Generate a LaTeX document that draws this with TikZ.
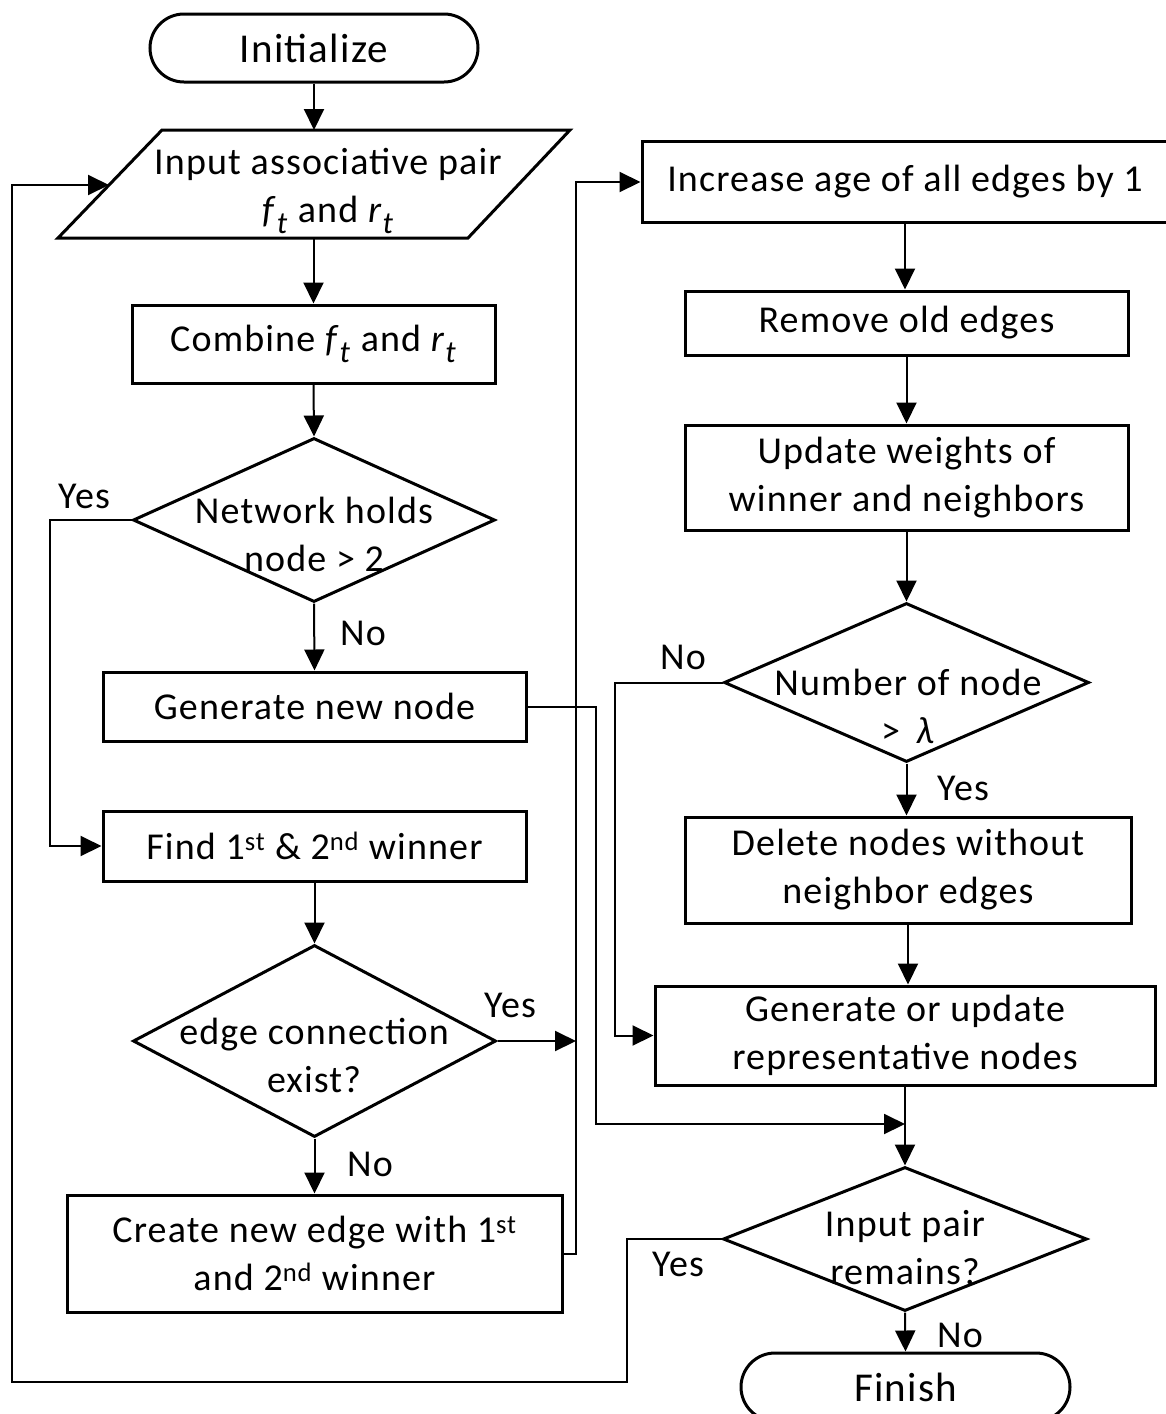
\documentclass[tikz,border=0pt]{standalone}
\usepackage{fontspec}
\setmainfont{Carlito}[LetterSpace=3]
\usetikzlibrary{arrows.meta,shapes.geometric}
\newcommand\vsub[2]{\textit{#1}\raisebox{-0.3em}{\fontsize{31}{31}\selectfont\textit{#2}}}
\begin{document}
\begin{tikzpicture}[x=1pt,y=-1pt,
  every node/.style={font=\fontsize{38}{48}\selectfont},
  box/.style={draw,line width=3pt,inner sep=0pt,align=center},
  term/.style={box,rounded corners=34pt,font=\fontsize{41}{48}\selectfont},
  dia/.style={draw,line width=3pt,diamond,inner sep=0pt},
  txt/.style={align=center,inner sep=0pt},
  conn/.style={line width=2pt},
  arr/.style={conn,-{Triangle[length=21pt,width=20pt]}}]
\useasboundingbox (0,0) rectangle (1166,1414);
\fill[white] (0,0) rectangle (1166,1414);

% left column
\node[term,minimum width=328pt,minimum height=68pt] (init) at (314,48) {Initialize};
\coordinate (pTL) at (162,130); \coordinate (pTR) at (570,130);
\coordinate (pBR) at (468,238); \coordinate (pBL) at (58,238);
\draw[line width=3pt,line join=miter] (pTL) -- (pTR) -- (pBR) -- (pBL) -- cycle;
\node[txt] (inp) at (328,191) {Input associative pair\\\vsub{f}{t} and \vsub{r}{t}};
\coordinate (pin) at (109,185);

\node[box,minimum width=363pt,minimum height=78pt] (comb) at (313.5,344) {Combine \vsub{f}{t} and \vsub{r}{t}};
\node[dia,minimum width=362pt,minimum height=164pt] (d1) at (314,520) {};
\node[txt] (d1t) at (314,534) {Network holds\\node > 2};
\node[box,minimum width=423pt,minimum height=69pt] (gen) at (314.5,706.5) {Generate new node};
\node[box,minimum width=423pt,minimum height=70pt] (find) at (314.5,846) {Find 1\textsuperscript{st} \& 2\textsuperscript{nd} winner};
\node[dia,minimum width=363pt,minimum height=192pt] (d2) at (314.5,1041) {};
\node[txt] (d2t) at (314,1055) {edge connection\\exist?};
\node[box,minimum width=495pt,minimum height=117pt] (create) at (314.5,1253.5) {Create new edge with 1\textsuperscript{st}\\and 2\textsuperscript{nd} winner};

% right column
\node[box,minimum width=526pt,minimum height=81pt] (inc) at (905,182) {Increase age of all edges by 1};
\node[box,minimum width=443pt,minimum height=64pt] (rem) at (906.5,323) {Remove old edges};
\node[box,minimum width=443pt,minimum height=105pt] (upd) at (906.5,477.5) {Update weights of\\winner and neighbors};
\node[dia,minimum width=365pt,minimum height=159pt] (d3) at (906.5,682.5) {};
\node[txt] (d3t) at (908,706) {Number of node\\> \,\textit{λ}};
\node[box,minimum width=446pt,minimum height=106pt] (del) at (908,870) {Delete nodes without\\neighbor edges};
\node[box,minimum width=500pt,minimum height=99pt] (gou) at (905,1035.5) {Generate or update\\representative nodes};
\node[dia,minimum width=364pt,minimum height=144pt] (d4) at (905,1239) {};
\node[txt] (d4t) at (905,1248) {Input pair\\remains?};
\node[term,minimum width=329pt,minimum height=68pt] (fin) at (905.5,1387) {Finish};

% labels
\node[txt] (l1) at (84,496) {Yes};
\node[txt] (l2) at (363,633) {No};
\node[txt] (l3) at (510,1005) {Yes};
\node[txt] (l4) at (370,1164) {No};
\node[txt] (l5) at (683,657) {No};
\node[txt] (l6) at (963,788) {Yes};
\node[txt] (l7) at (678,1264) {Yes};
\node[txt] (l8) at (960,1335) {No};

% bus coordinates
\coordinate (busA) at (576,0);
\coordinate (busB) at (596,0);
\coordinate (busC) at (615,0);
\coordinate (busD) at (627,0);
\coordinate (yesX) at (50,0);
\coordinate (loopX) at (12,0);
\coordinate (loopY) at (0,1382);
\coordinate (jn) at (905,1124);

% vertical flow left
\draw[arr] (init.south) -- (init.south |- pTL);
\draw[arr] (comb.north |- pBL) -- (comb.north);
\draw[arr] (comb.south) -- (d1.north);
\draw[arr] (d1.south) -- (gen.north);
\draw[arr] (d1.west) -- (d1.west -| yesX) |- (find.west);
\draw[arr] (find.south) -- (d2.north);
\draw[arr] (d2.south) -- (create.north);
\draw[arr] (d2.east) -- (d2.east -| busA);
\draw[arr] (create.east) -- (create.east -| busA) |- (inc.west);
\draw[arr] (gen.east) -- (gen.east -| busB) -- (jn -| busB) -- (jn);

% vertical flow right
\draw[arr] (inc.south) -- (inc.south |- rem.north);
\draw[arr] (rem.south) -- (rem.south |- upd.north);
\draw[arr] (upd.south) -- (upd.south |- d3.north);
\draw[arr] (d3.south) -- (d3.south |- del.north);
\draw[arr] (d3.west) -- (d3.west -| busC) |- (gou.west);
\draw[arr] (del.south) -- (del.south |- gou.north);
\draw[arr] (gou.south) -- (d4.north);
\draw[arr] (d4.south) -- (fin.north);
\draw[arr] (d4.west) -- (d4.west -| busD) -- (busD |- loopY) -- (loopX |- loopY) -- (loopX |- pin) -- (pin);
\end{tikzpicture}
\end{document}
